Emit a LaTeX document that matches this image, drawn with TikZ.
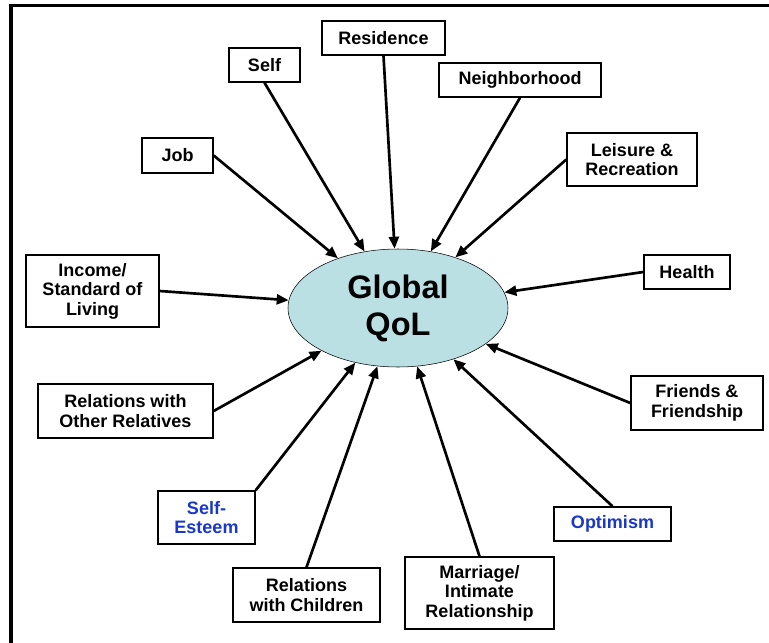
\documentclass[tikz,border=0pt]{standalone}
\usepackage{fontspec}
\setmainfont{Liberation Sans}
\usetikzlibrary{arrows.meta}
\usetikzlibrary{shapes.geometric}
\definecolor{qolfill}{RGB}{187,224,227}
\definecolor{accent}{RGB}{25,55,200}

\begin{document}
\begin{tikzpicture}[%
  x=0.75pt, y=-0.75pt,
  factor/.style={draw, line width=1.1pt, fill=white, align=center, inner sep=0pt,
    font=\bfseries\fontsize{13.5}{14.6}\selectfont},
  link/.style={line width=2pt, -{Triangle[length=9pt,width=7.5pt]}},
]

  \useasboundingbox (0,0) rectangle (769,643);

  % frame
  \draw[line width=2.6pt] (10.8,645) -- (10.8,5.7) -- (771,5.7);

  % centre
  \node[ellipse, draw, thin, fill=qolfill, minimum width=165pt, minimum height=88.5pt,
    inner sep=0pt, align=center, font=\bfseries\fontsize{24.4}{27.75}\selectfont]
    (qol) at (398,308) {Global\\QoL};

  % domains
  \node[factor, minimum width=92.25pt, minimum height=25.5pt] (res) at (383.5,38) {Residence};
  \node[factor, minimum width=53.25pt, minimum height=25.5pt] (self) at (264.5,65) {Self};
  \node[factor, minimum width=121.5pt, minimum height=25.5pt] (neigh) at (520,80) {Neighborhood};
  \node[factor, minimum width=53.25pt, minimum height=26.25pt] (job) at (177.5,155.5) {Job};
  \node[factor, minimum width=97.5pt, minimum height=39.75pt] (leis) at (632,159.5) {Leisure \&\\Recreation};
  \node[factor, minimum width=99.75pt, minimum height=54pt] (inc) at (92.5,291) {Income/\\Standard of\\Living};
  \node[factor, minimum width=64.5pt, minimum height=25.5pt] (health) at (687,272) {Health};
  \node[factor, minimum width=131.25pt, minimum height=40.5pt] (other) at (125.5,411) {Relations with\\Other Relatives};
  \node[factor, minimum width=99pt, minimum height=40.5pt] (friends) at (697,403) {Friends \&\\Friendship};
  \node[factor, text=accent, minimum width=72.75pt, minimum height=39.75pt] (esteem) at (206.5,517.5) {Self-\\Esteem};
  \node[factor, text=accent, minimum width=87.75pt, minimum height=25.5pt] (opt) at (612.5,524) {Optimism};
  \node[factor, minimum width=110.25pt, minimum height=40.5pt] (child) at (306.5,595) {Relations\\with Children};
  \node[factor, minimum width=111.75pt, minimum height=54pt] (marr) at (479.5,593) {Marriage/\\Intimate\\Relationship};

  % arrows into the centre
  \foreach \a in {res.south, self.south, neigh.south, job.east, leis.west, inc.east,
    health.west, other.east, friends.west, esteem.north east, opt.north,
    child.north, marr.north}
    \draw[link] (\a) -- (qol);

\end{tikzpicture}
\end{document}
